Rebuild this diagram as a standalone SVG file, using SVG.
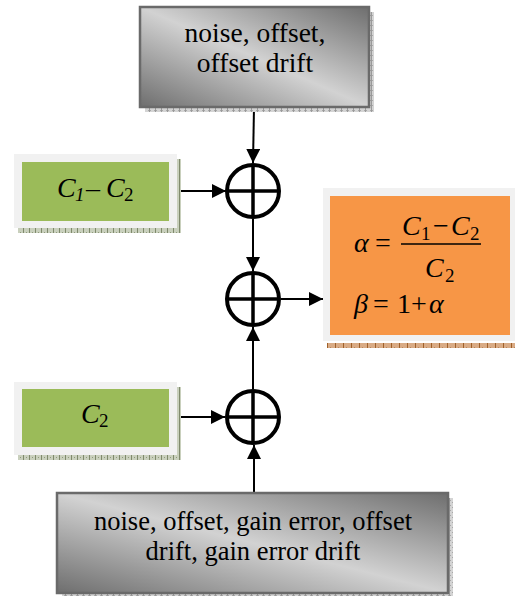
<svg xmlns="http://www.w3.org/2000/svg" width="515" height="596" viewBox="0 0 515 596">
  <style>
    .txt { font-family: "Liberation Serif", "Times New Roman", serif; font-size: 27.5px; fill: #000; text-anchor: middle; }
    .txt2 { font-size: 26.5px; }
    .math { font-family: "Liberation Serif", "Times New Roman", serif; font-size: 28px; fill: #000; }
    .it { font-style: italic; }
    .sub { font-size: 19px; }
    .grayBox { fill: url(#grayGrad); stroke: #6a6a6a; stroke-width: 2.5; }
    .frame { fill: #f1f1f1; }
    .sum { fill: none; stroke: #000; stroke-width: 4; }
    .cross { stroke: #000; stroke-width: 3.5; }
    .conn { stroke: #000; stroke-width: 2; fill: none; marker-end: url(#arrow); }
  </style>
  <defs>
    <linearGradient id="grayGrad" x1="1" y1="0" x2="0" y2="1">
      <stop offset="0" stop-color="#6e6e6e"/>
      <stop offset="0.5" stop-color="#d2d2d2"/>
      <stop offset="1" stop-color="#6e6e6e"/>
    </linearGradient>
    <pattern id="hatchGray" width="6" height="5" patternUnits="userSpaceOnUse">
      <rect width="6" height="5" fill="#d4d4d4"/>
      <rect x="0" y="0" width="1" height="1" fill="#a8a8a8"/>
      <rect x="2" y="2" width="1" height="1" fill="#a8a8a8"/>
      <rect x="4" y="0" width="1" height="1" fill="#a8a8a8"/>
      <rect x="5" y="0" width="1" height="5" fill="#9a9a9a"/>
    </pattern>
    <pattern id="hatchGreen" width="6" height="5" patternUnits="userSpaceOnUse">
      <rect width="6" height="5" fill="#c9d0bd"/>
      <rect x="2" y="2" width="1" height="1" fill="#8f9a7c"/>
      <rect x="5" y="0" width="1" height="5" fill="#7f8a6c"/>
    </pattern>
    <pattern id="hatchOrange" width="8" height="5" patternUnits="userSpaceOnUse">
      <rect width="8" height="5" fill="#d9ab85"/>
      <rect x="2" y="2" width="1" height="1" fill="#b8845a"/>
      <rect x="7" y="0" width="1" height="5" fill="#a0612a"/>
    </pattern>
    <marker id="arrow" markerUnits="userSpaceOnUse" markerWidth="16" markerHeight="16" refX="14" refY="7" orient="auto">
      <path d="M0,0 L14,7 L0,14 Z" fill="#000"/>
    </marker>
  </defs>

  <!-- connectors -->
  <g id="connectors">
    <line class="conn" x1="254" y1="107" x2="253" y2="163"/>
    <line class="conn" x1="177" y1="191" x2="226" y2="191"/>
    <line class="conn" x1="253" y1="219" x2="253" y2="271"/>
    <line class="conn" x1="281" y1="299" x2="323" y2="299"/>
    <line class="conn" x1="253" y1="389" x2="253" y2="327"/>
    <line class="conn" x1="177" y1="417" x2="225" y2="417"/>
    <line class="conn" x1="254" y1="493" x2="254" y2="445"/>
  </g>

  <!-- noise/offset source at the top -->
  <g id="topSource">
    <rect x="145" y="12" width="229" height="100" fill="url(#hatchGray)"/>
    <rect class="grayBox" x="140" y="7" width="229" height="100"/>
    <text class="txt" x="255" y="42">noise, offset,</text>
    <text class="txt" x="255" y="72">offset drift</text>
  </g>

  <!-- C1 - C2 input -->
  <g id="inputDiff">
    <rect x="18" y="159" width="163" height="74" fill="url(#hatchGreen)"/>
    <rect class="frame" x="14" y="154" width="163" height="74"/>
    <rect x="22" y="162" width="147" height="59" fill="#9bbb59"/>
    <text class="math"><tspan class="it" x="57" y="197">C</tspan><tspan class="it sub" x="75" y="201">1</tspan><tspan x="86" y="197">–</tspan><tspan class="it" x="106" y="197">C</tspan><tspan class="sub" x="124" y="201">2</tspan></text>
  </g>

  <!-- summing junctions -->
  <g id="sum1">
    <circle class="sum" cx="253" cy="191" r="26"/>
    <line class="cross" x1="227" y1="191" x2="279" y2="191"/>
    <line class="cross" x1="253" y1="165" x2="253" y2="217"/>
  </g>
  <g id="sum2">
    <circle class="sum" cx="253" cy="299" r="26"/>
    <line class="cross" x1="227" y1="299" x2="279" y2="299"/>
    <line class="cross" x1="253" y1="273" x2="253" y2="325"/>
  </g>
  <g id="sum3">
    <circle class="sum" cx="253" cy="417" r="26"/>
    <line class="cross" x1="227" y1="417" x2="279" y2="417"/>
    <line class="cross" x1="253" y1="391" x2="253" y2="443"/>
  </g>

  <!-- result: alpha and beta -->
  <g id="result">
    <rect x="327" y="343" width="188" height="5" fill="url(#hatchOrange)"/>
    <rect class="frame" x="323" y="188" width="192" height="153"/>
    <rect x="330" y="196" width="180" height="139" fill="#f79646"/>
    <text class="math"><tspan class="it" x="354" y="252">α</tspan><tspan x="375" y="252">=</tspan></text>
    <text class="math"><tspan class="it" x="402" y="235">C</tspan><tspan class="sub" x="421" y="240">1</tspan><tspan x="433" y="235">−</tspan><tspan class="it" x="451" y="235">C</tspan><tspan class="sub" x="470" y="240">2</tspan></text>
    <line x1="401" y1="244" x2="481" y2="244" stroke="#000" stroke-width="1.3"/>
    <text class="math"><tspan class="it" x="425" y="277">C</tspan><tspan class="sub" x="445" y="282">2</tspan></text>
    <text class="math"><tspan class="it" x="354" y="313">β</tspan><tspan x="373" y="313">=</tspan><tspan x="397" y="313">1</tspan><tspan x="411" y="313">+</tspan><tspan class="it" x="429" y="313">α</tspan></text>
  </g>

  <!-- C2 input -->
  <g id="inputC2">
    <rect x="18" y="387" width="163" height="73" fill="url(#hatchGreen)"/>
    <rect class="frame" x="14" y="382" width="163" height="73"/>
    <rect x="22" y="389" width="147" height="58" fill="#9bbb59"/>
    <text class="math"><tspan class="it" x="81" y="423">C</tspan><tspan class="sub" x="99" y="427">2</tspan></text>
  </g>

  <!-- noise/offset/gain source at the bottom -->
  <g id="bottomSource">
    <rect x="62" y="498" width="391" height="100" fill="url(#hatchGray)"/>
    <rect class="grayBox" x="57" y="493" width="391" height="100"/>
    <text class="txt txt2" x="253" y="530">noise, offset, gain error, offset</text>
    <text class="txt txt2" x="253" y="560">drift, gain error drift</text>
  </g>
</svg>
